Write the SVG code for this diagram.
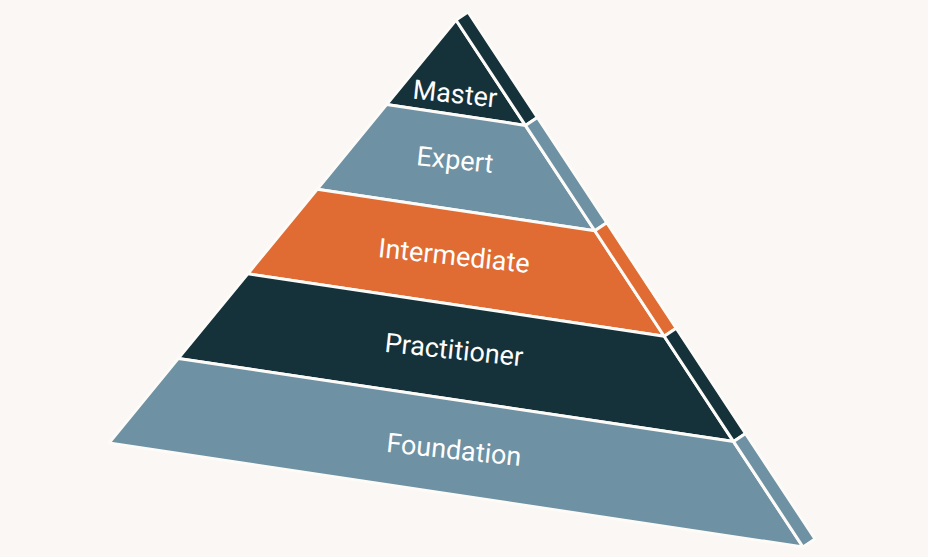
<svg xmlns="http://www.w3.org/2000/svg" width="928" height="557" viewBox="0 0 928 557">
<style>
.b{stroke:#fdfbf8;stroke-width:3;stroke-linejoin:round}
.d{fill:#15323a}.g{fill:#6e91a3}.o{fill:#e06c33}
text{font-family:Roboto,"Liberation Sans",sans-serif;font-size:27px;fill:#fff;text-anchor:middle;dominant-baseline:central}
</style>
<rect width="928" height="557" fill="#faf7f4"/>
<g id="master"><polygon class="b d" points="456,20 525.4,125.4 386.6,104.6"/><polygon class="b d" points="456,20 468,12 537.4,117.4 525.4,125.4"/><text transform="translate(455,94) rotate(6)">Master</text></g>
<g id="expert"><polygon class="b g" points="386.6,104.6 525.4,125.4 594.8,230.8 317.2,189.2"/><polygon class="b g" points="525.4,125.4 537.4,117.4 606.8,222.8 594.8,230.8"/><text transform="translate(455,160) rotate(6)">Expert</text></g>
<g id="intermediate"><polygon class="b o" points="317.2,189.2 594.8,230.8 664.2,336.2 247.8,273.8"/><polygon class="b o" points="594.8,230.8 606.8,222.8 676.2,328.2 664.2,336.2"/><text transform="translate(454,256) rotate(6)">Intermediate</text></g>
<g id="practitioner"><polygon class="b d" points="247.8,273.8 664.2,336.2 733.6,441.6 178.4,358.4"/><polygon class="b d" points="664.2,336.2 676.2,328.2 745.6,433.6 733.6,441.6"/><text transform="translate(454,350) rotate(6)">Practitioner</text></g>
<g id="foundation"><polygon class="b g" points="178.4,358.4 733.6,441.6 803,547 109,443"/><polygon class="b g" points="733.6,441.6 745.6,433.6 815,539 803,547"/><text transform="translate(454,450) rotate(6)">Foundation</text></g>
<g id="connectors"/>
</svg>
